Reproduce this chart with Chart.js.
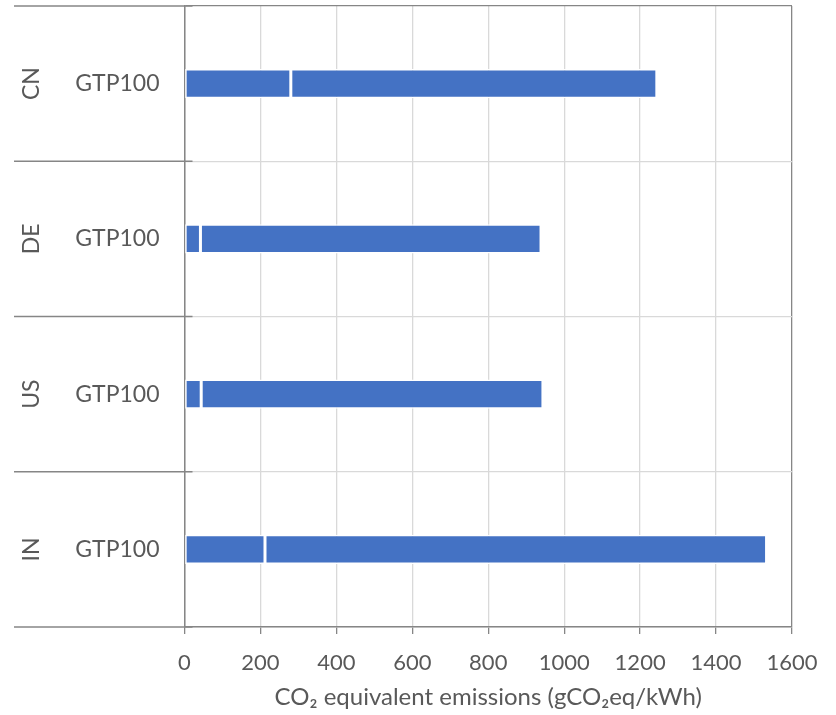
<!DOCTYPE html>
<html>
<head>
<meta charset="utf-8">
<script src="https://cdn.jsdelivr.net/npm/chart.js@4.4.1/dist/chart.umd.min.js"></script>
<style>
  html, body { margin: 0; padding: 0; background: #fff; }
</style>
</head>
<body>
<canvas id="chart" width="836" height="715"></canvas>
<script>
// values
const countries = ['CN', 'DE', 'US', 'IN'];
const metrics = ['GTP100', 'GTP100', 'GTP100', 'GTP100'];
const supplyChain = [280, 42, 44, 212];
const combustion = [964, 897, 900, 1321];
const xTicks = [0, 200, 400, 600, 800, 1000, 1200, 1400, 1600];

const textColor = '#595959';
const axisColor = '#868686';
const gridColor = '#d9d9d9';
const barColor = '#4472c4';
const font = { family: 'Lato', size: 22 };

// dark separators between country groups, running across the label area
const groupLines = {
  id: 'groupLines',
  afterDraw(chart) {
    const y = chart.scales.y;
    const outer = chart.scales.country;
    const ctx = chart.ctx;
    ctx.save();
    ctx.strokeStyle = axisColor;
    ctx.lineWidth = 1.5;
    for (let i = 0; i <= countries.length; i++) {
      const py = y.getPixelForValue(i - 0.5);
      ctx.beginPath();
      ctx.moveTo(outer.left, py);
      ctx.lineTo(chart.chartArea.left + 8, py);
      ctx.stroke();
    }
    ctx.restore();
  }
};

const barStyle = {
  backgroundColor: barColor,
  borderColor: '#ffffff',
  borderWidth: 1.5,
  borderSkipped: false,
  barPercentage: 0.19,
  categoryPercentage: 1
};

const noPadding = (s) => {
  s.paddingTop = 0;
  s.paddingBottom = 0;
  s.paddingLeft = 0;
  s.paddingRight = 0;
};

new Chart(document.getElementById('chart'), {
  type: 'bar',
  data: {
    labels: metrics,
    datasets: [
      { label: 'Supply chain', data: supplyChain, ...barStyle },
      { label: 'Combustion', data: combustion, ...barStyle }
    ]
  },
  options: {
    indexAxis: 'y',
    responsive: false,
    animation: false,
    layout: { padding: { left: 14, right: 44, top: 6, bottom: 0 } },
    plugins: {
      legend: { display: false },
      tooltip: { enabled: false }
    },
    scales: {
      x: {
        type: 'linear',
        stacked: true,
        min: 0,
        max: 1600,
        afterBuildTicks: (s) => { s.ticks = xTicks.map((v) => ({ value: v })); },
        afterFit: (s) => { s.height = 88; noPadding(s); },
        border: { color: axisColor, width: 1.5 },
        grid: {
          color: (c) => (c.tick && c.tick.value === 1600 ? axisColor : gridColor),
          lineWidth: 1.3,
          tickLength: 7,
          tickColor: axisColor
        },
        ticks: {
          color: textColor,
          font: font,
          padding: 16,
          maxRotation: 0,
          callback: (v) => String(v)
        },
        title: {
          display: true,
          text: 'CO₂ equivalent emissions (gCO₂eq/kWh)',
          color: textColor,
          font: { family: 'Lato', size: 24 },
          padding: { top: 0, bottom: 3 }
        }
      },
      y: {
        type: 'category',
        stacked: true,
        position: 'left',
        weight: 0,
        afterFit: (s) => { s.width = 118.5; noPadding(s); },
        border: { color: axisColor, width: 1.5 },
        grid: {
          offset: true,
          drawTicks: false,
          color: (c) => (c.index === 0 ? axisColor : gridColor),
          lineWidth: 1.3
        },
        ticks: { color: textColor, font: { family: 'Lato', size: 23 }, padding: 25 }
      },
      country: {
        type: 'category',
        labels: countries,
        position: 'left',
        weight: 1,
        afterFit: (s) => { s.width = 52; noPadding(s); },
        border: { display: false },
        grid: { display: false, drawTicks: false },
        ticks: {
          color: textColor,
          font: { family: 'Lato', size: 23 },
          padding: 18,
          crossAlign: 'center',
          minRotation: 90,
          maxRotation: 90
        }
      }
    }
  },
  plugins: [groupLines]
});
</script>
</body>
</html>
